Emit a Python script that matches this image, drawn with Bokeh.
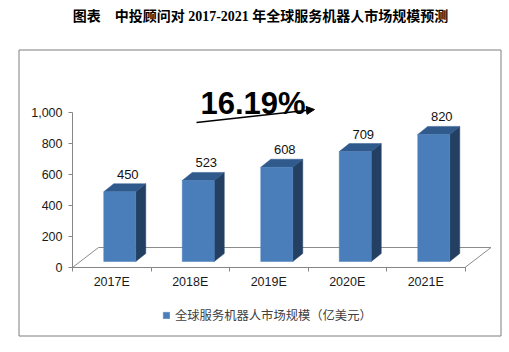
from bokeh.plotting import figure
from bokeh.models import (Range1d, FixedTicker, NumeralTickFormatter, Arrow, NormalHead,
                          Label, Legend, LegendItem, LinearAxis)
from bokeh.core.properties import value
from bokeh.embed import file_html
from bokeh.resources import INLINE

# ---------------- data ----------------
categories = ["2017E", "2018E", "2019E", "2020E", "2021E"]
market_size = [450, 523, 608, 709, 820]
y_ticks = [0, 200, 400, 600, 800, 1000]
growth_label = "16.19%"
legend_label = "全球服务机器人市场规模（亿美元）"
title_text = "图表　中投顾问对 2017-2021 年全球服务机器人市场规模预测"

# ---------------- geometry (pixels) ----------------
W, H = 509, 352
BOX_L, BOX_R, BOX_T, BOX_B = 18.5, 500.5, 49.5, 335.5   # grey outer box
X0_PX, Y0_PX = 72, 267                 # where x=0 / value=0 sit
SX = 78.5                               # px per category
SY = 0.155                              # px per value unit

def dxp(px):
    return px / SX

def dyp(px):
    return px / SY

def xd(px):   # absolute pixel x -> data
    return (px - X0_PX) / SX

def yd(px):   # absolute pixel y -> data
    return (Y0_PX - px) / SY

p = figure(width=W, height=H,
           x_range=Range1d(xd(0), xd(W)),
           y_range=Range1d(yd(H), yd(0)),
           output_backend="svg", toolbar_location=None,
           x_axis_location=None, y_axis_location=None,
           min_border=0)
p.grid.visible = False
p.outline_line_color = None
p.background_fill_color = "white"
p.border_fill_color = "white"
p.title.visible = False

# outer box
p.quad(left=[xd(BOX_L)], right=[xd(BOX_R)], bottom=[yd(BOX_B)], top=[yd(BOX_T)],
       fill_color=None, line_color="#7f7f7f", line_width=1)

# title
p.add_layout(Label(x=xd(260), y=yd(16), text=title_text,
                   text_align="center", text_baseline="middle",
                   text_font="'Liberation Serif', 'Noto Sans CJK SC'",
                   text_font_size="14px", text_font_style="bold", text_color="black"))

n = len(categories)
centers = [i + 0.5 for i in range(n)]
boundaries = list(range(n + 1))

# floor (3D) outline
FLOOR_DX, FLOOR_DY = 26, 20
fdx, fdy = dxp(FLOOR_DX), dyp(FLOOR_DY)
p.multi_line(xs=[[0, fdx], [fdx, n + fdx], [n, n + fdx]],
             ys=[[0, fdy], [fdy, fdy], [0, fdy]],
             line_color="#8c8c8c", line_width=1)

# bars
BAR_W, SHIFT_X, SHIFT_Y, DEPTH_X, DEPTH_Y = 32, 8, 6, 10, 8
left = [c + dxp(SHIFT_X - BAR_W / 2) for c in centers]
right = [c + dxp(SHIFT_X + BAR_W / 2) for c in centers]
bottom = dyp(SHIFT_Y)
tops = [bottom + v for v in market_size]
bdx, bdy = dxp(DEPTH_X), dyp(DEPTH_Y)

side_xs = [[r, r + bdx, r + bdx, r] for r in right]
side_ys = [[bottom, bottom + bdy, t + bdy, t] for t in tops]
top_xs = [[l, r, r + bdx, l + bdx] for l, r in zip(left, right)]
top_ys = [[t, t, t + bdy, t + bdy] for t in tops]

p.patches(side_xs, side_ys, fill_color="#233f62", line_color="#233f62", line_width=0.5)
p.patches(top_xs, top_ys, fill_color="#30598c", line_color="#30598c", line_width=0.5)
front = p.quad(left=left, right=right, bottom=[bottom] * n, top=tops,
               fill_color="#4a7ebb", line_color="#4a7ebb", line_width=0.5)

# value labels
p.text(x=[c + dxp(SHIFT_X + 8) for c in centers],
       y=[v + dyp(23.5) for v in market_size],
       text=[str(v) for v in market_size],
       text_align="center", text_baseline="middle",
       text_font=value("Liberation Sans"), text_font_size="13px", text_color="#111111")

# axes
yaxis = LinearAxis(fixed_location=0, bounds=(0, 1000),
                   ticker=FixedTicker(ticks=y_ticks),
                   formatter=NumeralTickFormatter(format="0,0"))
xaxis = LinearAxis(fixed_location=0, bounds=(0, n),
                   ticker=FixedTicker(ticks=centers, minor_ticks=boundaries),
                   major_label_overrides={c: cat for c, cat in zip(centers, categories)})
for ax in (yaxis, xaxis):
    ax.axis_line_color = "#868686"
    ax.axis_line_width = 1
    ax.major_label_text_font = "Liberation Sans"
    ax.major_label_text_font_size = "12.5px"
    ax.major_label_text_color = "#1a1a1a"
yaxis.major_tick_line_color = "#868686"
yaxis.major_tick_out = 4
yaxis.major_tick_in = 0
yaxis.minor_tick_line_color = None
yaxis.major_label_standoff = 6
xaxis.major_tick_line_color = None
xaxis.minor_tick_line_color = "#868686"
xaxis.minor_tick_out = 4
xaxis.minor_tick_in = 0
xaxis.major_label_standoff = 1
p.add_layout(yaxis, "left")
p.add_layout(xaxis, "below")

# growth annotation
p.add_layout(Label(x=xd(200), y=yd(103), text=growth_label,
                   text_font="Liberation Sans", text_font_size="31px",
                   text_font_style="bold", text_color="black",
                   text_baseline="middle"))
p.add_layout(Arrow(x_start=xd(196), y_start=yd(122),
                   x_end=xd(314), y_end=yd(109),
                   line_width=1.3, line_color="black",
                   end=NormalHead(size=8, fill_color="black", line_color="black")))

# legend
legend = Legend(items=[LegendItem(label=legend_label, renderers=[front])],
                location=(162, 28), orientation="horizontal",
                glyph_width=8, glyph_height=8, label_standoff=5,
                padding=0, margin=0, border_line_color=None,
                background_fill_alpha=0,
                label_text_font="Noto Sans CJK SC", label_text_font_size="12.3px",
                label_text_color="#404040")
p.add_layout(legend)

open("out.html", "w").write(file_html(p, INLINE))
